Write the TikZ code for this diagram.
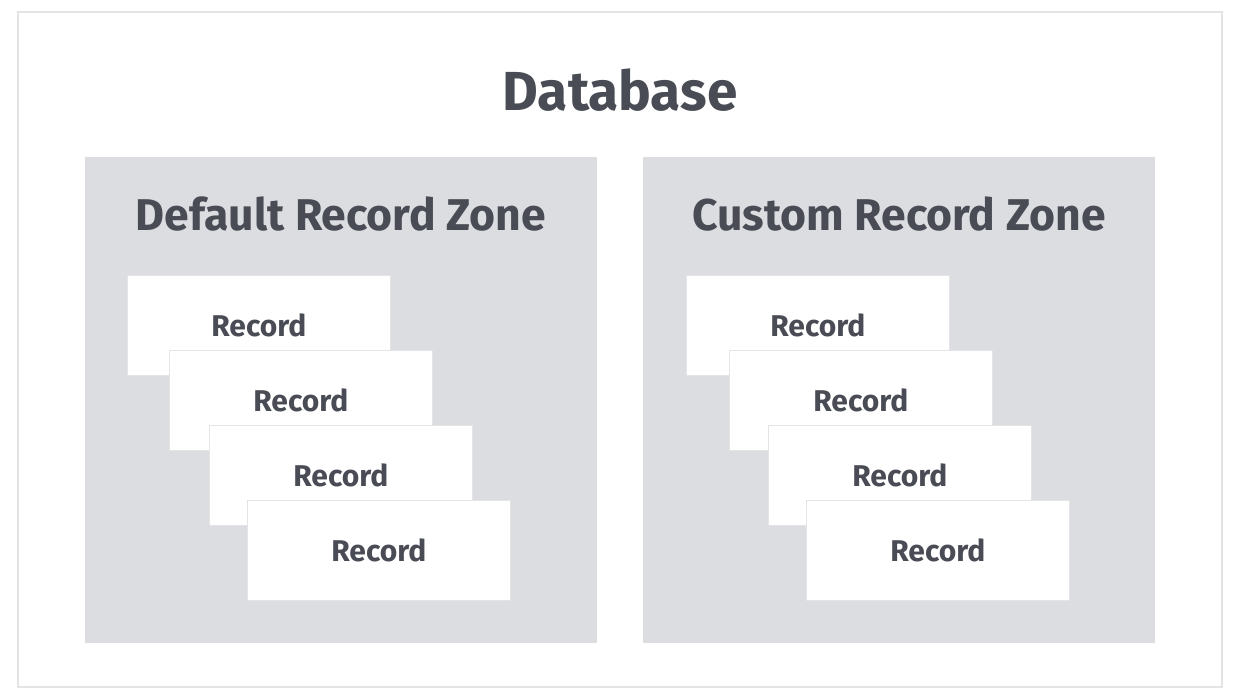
\documentclass[tikz,border=0pt]{standalone}
\usepackage{fontspec}
\setmainfont{Fira Sans}
\usepackage{xcolor}
\usetikzlibrary{positioning}
\definecolor{ink}{HTML}{4A4C55}
\definecolor{zonegray}{HTML}{DCDDE1}
\definecolor{edgegray}{HTML}{E4E4E6}

\begin{document}
\begin{tikzpicture}[
    x=1pt, y=-1pt,
    outerframe/.style={draw=edgegray, line width=1.2pt, fill=white},
    zonebox/.style={rectangle, fill=zonegray, draw=none, inner sep=0pt, anchor=north west, minimum width=512pt, minimum height=486pt},
    recbox/.style={rectangle, fill=white, draw=edgegray, line width=0.8pt, inner sep=0pt, anchor=north west, minimum width=263pt, minimum height=100pt, text=ink, font=\fontsize{30}{34}\selectfont\bfseries},
    zonetitle/.style={text=ink, font=\fontsize{44.5}{50}\selectfont\bfseries},
    dbtitle/.style={text=ink, font=\fontsize{55}{62}\selectfont\bfseries}
]
    \useasboundingbox (0,0) rectangle (1240,699);
    \fill[white] (0,0) rectangle (1240,699);
    \draw[outerframe] (18,12) rectangle (1222,687);

    \node [dbtitle] (db) at (620,90) {Database};

    % zones
    \node [zonebox] (zdef) at (85,157) {};
    \node [zonebox] (zcus) at (643,157) {};
    \node [zonetitle] (tdef) at (341,214) {Default Record Zone};
    \node [zonetitle] (tcus) at (899,214) {Custom Record Zone};

    % records, default zone
    \node [recbox] (d1) at (127,275) {Record};
    \node [recbox] (d2) at (169,350) {Record};
    \node [recbox] (d3) at (209,425) {Record};
    \node [recbox] (d4) at (247,500) {Record};

    % records, custom zone
    \node [recbox] (c1) at (686,275) {Record};
    \node [recbox] (c2) at (729,350) {Record};
    \node [recbox] (c3) at (768,425) {Record};
    \node [recbox] (c4) at (806,500) {Record};
\end{tikzpicture}
\end{document}
